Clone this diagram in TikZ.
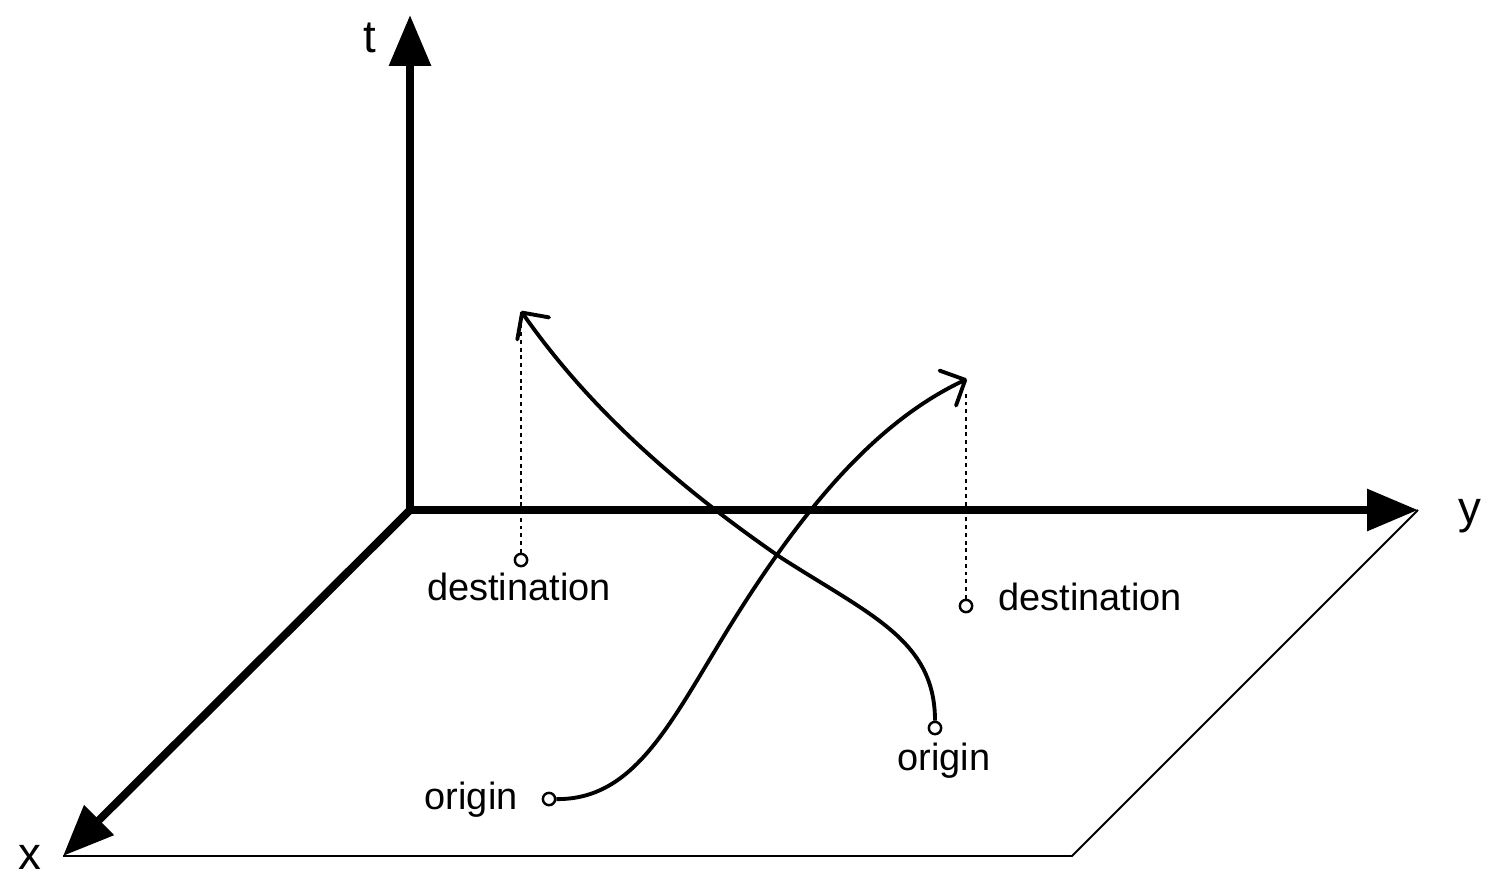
\documentclass[tikz,border=0pt]{standalone}
\usepackage{fontspec}
\setmainfont{Liberation Sans}
\usetikzlibrary{arrows.meta}

\tikzset{
  axis/.style={line width=4.5pt, -{Triangle[length=29pt,width=23pt]}},
  traj/.style={line width=2.2pt, -{Straight Barb[length=11pt,width=22pt,line width=2.2pt,round]}},
  endpt/.style={circle, draw, fill=white, line width=1.4pt, inner sep=0pt, minimum size=7pt},
  proj/.style={line width=1.6pt, dash pattern=on 2.2pt off 2.2pt},
  lbl/.style={font=\fontsize{21.6}{26}\selectfont, inner sep=0pt},
  axlbl/.style={font=\fontsize{26}{30}\selectfont, inner sep=0pt}
}

\begin{document}
\begin{tikzpicture}[x=0.02cm, y=-0.02cm]
  \useasboundingbox (0,0) rectangle (1493,876);
  % axes and plane
  \coordinate (O) at (410,510);
  \coordinate (T) at (410,15);
  \coordinate (Y) at (1418,510);
  \coordinate (X) at (63,856);
  \coordinate (P) at (1072,856);
  \draw[line width=1.1pt, line join=miter] (X) -- (P) -- (Y);
  \draw[axis] (O) -- (T);
  \draw[axis] (O) -- (Y);
  \draw[axis] (O) -- (X);
  \node[axlbl] (tlab) at (370,38) {t};
  \node[axlbl] (ylab) at (1470,516) {y};
  \node[axlbl] (xlab) at (30,857) {x};

  % end points
  \node[endpt] (d1) at (521,560) {};
  \node[endpt] (d2) at (966,606) {};
  \node[endpt] (o1) at (549,799) {};
  \node[endpt] (o2) at (935,728) {};
  \coordinate (a1) at (521,311);
  \coordinate (a2) at (967,379);
  \node[lbl] (d1lab) at (519,587) {destination};
  \node[lbl, anchor=west] (d2lab) at (998,597) {destination};
  \node[lbl, anchor=east] (o1lab) at (518,800) {origin};
  \node[lbl] (o2lab) at (944,761) {origin};

  % projections
  \draw[proj] (d1) -- (521,320);
  \draw[proj] (d2) -- (966,390);

  % trajectories
  \draw[traj] (o2) .. controls (935,640) and (870,615) .. (780,557)
              .. controls (680,488) and (590,410) .. (a1);
  \draw[traj] (o1) .. controls (640,800) and (675,712) .. (740,610)
              .. controls (810,500) and (880,420) .. (a2);
\end{tikzpicture}
\end{document}
